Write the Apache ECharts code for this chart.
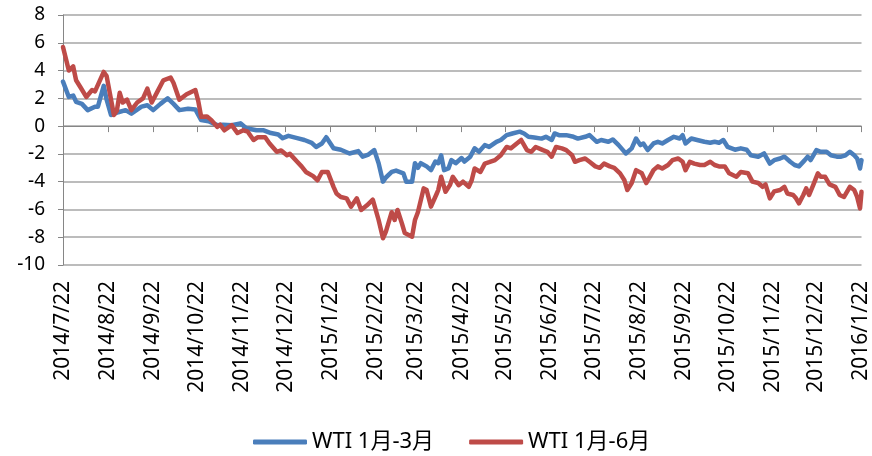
<!DOCTYPE html>
<html>
<head>
<meta charset="utf-8">
<script src="https://cdn.jsdelivr.net/npm/echarts@6/dist/echarts.min.js"></script>
<style>
  html, body { margin: 0; padding: 0; background: #fff; }
  #chart { width: 872px; height: 456px; }
</style>
</head>
<body>
<div id="chart"></div>
<script>
const startDay = '2014/7/22'
const endDay = '2016/1/22'
const yTicks = [-10, -8, -6, -4, -2, 0, 2, 4, 6, 8]

const name3m = 'WTI 1月-3月'
const dates3m = [
  '2014/7/22', '2014/7/26', '2014/7/29', '2014/7/31', '2014/8/4', '2014/8/8', '2014/8/13', '2014/8/15',
  '2014/8/19', '2014/8/21', '2014/8/24', '2014/8/29', '2014/9/3', '2014/9/7', '2014/9/14', '2014/9/18',
  '2014/9/22', '2014/9/27', '2014/10/2', '2014/10/6', '2014/10/10', '2014/10/16', '2014/10/21', '2014/10/25',
  '2014/10/30', '2014/11/5', '2014/11/9', '2014/11/15', '2014/11/21', '2014/11/25', '2014/12/2', '2014/12/7',
  '2014/12/12', '2014/12/17', '2014/12/20', '2014/12/24', '2014/12/30', '2015/1/4', '2015/1/9', '2015/1/12',
  '2015/1/16', '2015/1/19', '2015/1/24', '2015/1/29', '2015/2/4', '2015/2/10', '2015/2/13', '2015/2/17',
  '2015/2/21', '2015/2/24', '2015/2/27', '2015/3/1', '2015/3/5', '2015/3/8', '2015/3/13', '2015/3/15',
  '2015/3/19', '2015/3/21', '2015/3/23', '2015/3/25', '2015/3/29', '2015/4/1', '2015/4/4', '2015/4/6',
  '2015/4/8', '2015/4/10', '2015/4/13', '2015/4/15', '2015/4/18', '2015/4/22', '2015/4/24', '2015/4/28',
  '2015/5/1', '2015/5/4', '2015/5/8', '2015/5/11', '2015/5/16', '2015/5/19', '2015/5/23', '2015/5/27',
  '2015/6/1', '2015/6/4', '2015/6/7', '2015/6/11', '2015/6/16', '2015/6/19', '2015/6/23', '2015/6/25',
  '2015/6/28', '2015/7/3', '2015/7/8', '2015/7/11', '2015/7/16', '2015/7/19', '2015/7/24', '2015/7/27',
  '2015/8/1', '2015/8/4', '2015/8/8', '2015/8/11', '2015/8/13', '2015/8/17', '2015/8/20', '2015/8/23',
  '2015/8/25', '2015/8/28', '2015/9/1', '2015/9/4', '2015/9/7', '2015/9/11', '2015/9/15', '2015/9/19',
  '2015/9/21', '2015/9/23', '2015/9/27', '2015/10/1', '2015/10/6', '2015/10/10', '2015/10/13', '2015/10/16',
  '2015/10/19', '2015/10/22', '2015/10/27', '2015/10/31', '2015/11/4', '2015/11/7', '2015/11/12', '2015/11/16',
  '2015/11/20', '2015/11/23', '2015/11/27', '2015/11/30', '2015/12/4', '2015/12/7', '2015/12/10', '2015/12/14',
  '2015/12/16', '2015/12/18', '2015/12/22', '2015/12/25', '2015/12/29', '2016/1/1', '2016/1/5', '2016/1/8',
  '2016/1/11', '2016/1/14', '2016/1/17', '2016/1/19', '2016/1/21', '2016/1/22'
]
const values3m = [
  3.2, 2.1, 2.2, 1.75, 1.6, 1.15, 1.4, 1.4,
  2.9, 1.9, 0.8, 1.0, 1.15, 0.9, 1.4, 1.5,
  1.15, 1.6, 2.0, 1.6, 1.15, 1.25, 1.2, 0.43,
  0.35, 0.07, 0.1, 0.07, 0.2, -0.15, -0.3, -0.3,
  -0.5, -0.6, -0.87, -0.7, -0.87, -1.0, -1.2, -1.5,
  -1.25, -0.8, -1.6, -1.7, -1.97, -1.8, -2.2, -2.05,
  -1.73, -2.67, -4.0, -3.7, -3.3, -3.2, -3.4, -4.0,
  -4.0, -2.67, -3.0, -2.67, -2.9, -3.17, -2.55, -2.67,
  -2.1, -3.17, -3.05, -2.45, -2.67, -2.3, -2.55, -2.2,
  -1.6, -1.85, -1.37, -1.5, -1.13, -1.0, -0.65, -0.53,
  -0.4, -0.53, -0.77, -0.82, -0.9, -0.77, -1.0, -0.53,
  -0.65, -0.65, -0.77, -0.9, -0.77, -0.65, -1.13, -1.0,
  -1.13, -0.96, -1.37, -1.73, -1.97, -1.6, -0.89, -1.37,
  -1.25, -1.73, -1.25, -1.13, -1.25, -1.0, -0.77, -0.89,
  -0.65, -1.25, -0.89, -1.0, -1.13, -1.2, -1.13, -1.2,
  -1.0, -1.5, -1.7, -1.6, -1.7, -2.1, -2.2, -1.97,
  -2.7, -2.45, -2.33, -2.2, -2.57, -2.8, -2.9, -2.45,
  -2.2, -2.45, -1.73, -1.85, -1.85, -2.1, -2.2, -2.2,
  -2.1, -1.85, -2.1, -2.33, -3.05, -2.45
]

const name6m = 'WTI 1月-6月'
const dates6m = [
  '2014/7/22', '2014/7/26', '2014/7/29', '2014/7/31', '2014/8/3', '2014/8/7', '2014/8/11', '2014/8/13',
  '2014/8/19', '2014/8/21', '2014/8/26', '2014/8/28', '2014/8/30', '2014/9/1', '2014/9/4', '2014/9/7',
  '2014/9/11', '2014/9/15', '2014/9/18', '2014/9/21', '2014/9/25', '2014/9/29', '2014/10/4', '2014/10/6',
  '2014/10/10', '2014/10/15', '2014/10/21', '2014/10/23', '2014/10/25', '2014/10/29', '2014/11/1', '2014/11/5',
  '2014/11/7', '2014/11/10', '2014/11/15', '2014/11/19', '2014/11/23', '2014/11/26', '2014/11/30', '2014/12/3',
  '2014/12/8', '2014/12/11', '2014/12/16', '2014/12/19', '2014/12/23', '2014/12/25', '2014/12/30', '2015/1/2',
  '2015/1/5', '2015/1/10', '2015/1/13', '2015/1/16', '2015/1/20', '2015/1/24', '2015/1/26', '2015/1/29',
  '2015/2/2', '2015/2/5', '2015/2/9', '2015/2/12', '2015/2/16', '2015/2/20', '2015/2/24', '2015/2/27',
  '2015/3/1', '2015/3/5', '2015/3/7', '2015/3/9', '2015/3/12', '2015/3/14', '2015/3/19', '2015/3/21',
  '2015/3/23', '2015/3/27', '2015/3/29', '2015/4/1', '2015/4/5', '2015/4/6', '2015/4/8', '2015/4/11',
  '2015/4/14', '2015/4/16', '2015/4/20', '2015/4/23', '2015/4/27', '2015/4/29', '2015/5/1', '2015/5/5',
  '2015/5/8', '2015/5/11', '2015/5/15', '2015/5/19', '2015/5/23', '2015/5/26', '2015/5/30', '2015/6/2',
  '2015/6/6', '2015/6/9', '2015/6/12', '2015/6/17', '2015/6/20', '2015/6/23', '2015/6/26', '2015/6/30',
  '2015/7/3', '2015/7/7', '2015/7/9', '2015/7/12', '2015/7/16', '2015/7/19', '2015/7/23', '2015/7/26',
  '2015/7/29', '2015/8/2', '2015/8/5', '2015/8/9', '2015/8/12', '2015/8/14', '2015/8/17', '2015/8/20',
  '2015/8/24', '2015/8/27', '2015/8/29', '2015/9/1', '2015/9/4', '2015/9/7', '2015/9/11', '2015/9/14',
  '2015/9/18', '2015/9/21', '2015/9/23', '2015/9/26', '2015/9/29', '2015/10/3', '2015/10/6', '2015/10/10',
  '2015/10/13', '2015/10/16', '2015/10/20', '2015/10/23', '2015/10/28', '2015/10/31', '2015/11/5', '2015/11/8',
  '2015/11/12', '2015/11/15', '2015/11/17', '2015/11/20', '2015/11/23', '2015/11/27', '2015/11/30', '2015/12/2',
  '2015/12/6', '2015/12/8', '2015/12/10', '2015/12/13', '2015/12/15', '2015/12/17', '2015/12/20', '2015/12/23',
  '2015/12/25', '2015/12/28', '2015/12/31', '2016/1/4', '2016/1/7', '2016/1/10', '2016/1/14', '2016/1/17',
  '2016/1/19', '2016/1/21', '2016/1/22'
]
const values6m = [
  5.7, 4.0, 4.3, 3.3, 2.8, 2.1, 2.6, 2.5,
  3.9, 3.6, 0.8, 1.1, 2.4, 1.7, 1.9, 1.15,
  1.7, 2.0, 2.7, 1.7, 2.5, 3.3, 3.5, 3.1,
  1.9, 2.3, 2.6, 1.8, 0.67, 0.7, 0.43, -0.05,
  0.1, -0.3, 0.07, -0.5, -0.3, -0.4, -1.0, -0.8,
  -0.8, -1.25, -1.85, -1.75, -2.1, -2.0, -2.57, -2.9,
  -3.3, -3.6, -3.9, -3.3, -3.3, -4.37, -4.85, -5.1,
  -5.2, -5.8, -5.2, -6.04, -5.7, -5.3, -6.76, -8.08,
  -7.6, -6.2, -6.76, -6.04, -7.0, -7.7, -7.96, -6.76,
  -6.2, -4.48, -4.6, -5.8, -4.85, -4.6, -3.65, -4.73,
  -4.25, -3.65, -4.25, -4.0, -4.37, -3.9, -3.05, -3.3,
  -2.7, -2.6, -2.45, -2.1, -1.5, -1.6, -1.25, -1.0,
  -1.73, -1.85, -1.5, -1.73, -1.85, -2.2, -1.5, -1.6,
  -1.73, -2.1, -2.57, -2.45, -2.33, -2.57, -2.9, -3.0,
  -2.7, -2.9, -3.0, -3.4, -3.9, -4.6, -4.1, -3.17,
  -3.4, -4.1, -3.75, -3.17, -2.9, -3.05, -2.8, -2.45,
  -2.33, -2.57, -3.17, -2.57, -2.7, -2.8, -2.8, -2.57,
  -2.8, -2.9, -2.9, -3.4, -3.65, -3.3, -3.4, -4.0,
  -4.1, -4.37, -4.2, -5.2, -4.7, -4.6, -4.37, -4.85,
  -4.96, -5.2, -5.56, -4.96, -4.48, -4.96, -4.2, -3.4,
  -3.65, -3.65, -4.2, -4.37, -4.96, -5.1, -4.37, -4.6,
  -5.1, -5.92, -4.73
]

// every calendar day on the axis, so months keep their real width
function dayList(from, to) {
  const out = []
  const p = from.split('/').map(Number)
  const q = to.split('/').map(Number)
  let t = Date.UTC(p[0], p[1] - 1, p[2])
  const end = Date.UTC(q[0], q[1] - 1, q[2])
  while (t <= end) {
    const d = new Date(t)
    out.push(d.getUTCFullYear() + '/' + (d.getUTCMonth() + 1) + '/' + d.getUTCDate())
    t += 86400000
  }
  return out
}

function pairs(dates, values) {
  return dates.map((d, i) => [d, values[i]])
}

const days = dayList(startDay, endDay)
const onDay22 = (index, value) => value.split('/')[2] === '22'

const chart = echarts.init(document.getElementById('chart'), null, { renderer: 'canvas' })
chart.setOption({
  animation: false,
  backgroundColor: '#fff',
  textStyle: { fontFamily: 'Noto Sans' },
  grid: { left: 63, right: 10, top: 15, bottom: 191, containLabel: false },
  legend: {
    left: 248,
    top: 426,
    itemWidth: 54,
    itemHeight: 5,
    itemGap: 35,
    icon: 'roundRect',
    textStyle: { fontSize: 22, color: '#000', fontFamily: 'Noto Sans, Noto Sans CJK SC' },
    data: [name3m, name6m]
  },
  xAxis: {
    type: 'category',
    data: days,
    boundaryGap: false,
    axisLine: { lineStyle: { color: '#868686', width: 1 } },
    axisTick: { show: true, interval: onDay22, length: 6, lineStyle: { color: '#868686' } },
    axisLabel: {
      interval: onDay22,
      rotate: 90,
      margin: 16,
      fontSize: 21,
      color: '#000'
    },
    splitLine: { show: false }
  },
  yAxis: {
    type: 'value',
    min: yTicks[0],
    max: yTicks[yTicks.length - 1],
    interval: 2,
    axisLine: { show: true, lineStyle: { color: '#868686', width: 1 } },
    axisTick: { show: true, length: 5, lineStyle: { color: '#868686' } },
    axisLabel: { margin: 18, fontSize: 19, color: '#000' },
    splitLine: { lineStyle: { color: '#A6A6A6', width: 1.5 } }
  },
  series: [
    {
      name: name3m,
      type: 'line',
      showSymbol: false,
      symbol: 'none',
      data: pairs(dates3m, values3m),
      lineStyle: { color: '#4A7EBB', width: 4.5, join: 'round', cap: 'round' },
      itemStyle: { color: '#4A7EBB' }
    },
    {
      name: name6m,
      type: 'line',
      showSymbol: false,
      symbol: 'none',
      data: pairs(dates6m, values6m),
      lineStyle: { color: '#BE4B48', width: 4.5, join: 'round', cap: 'round' },
      itemStyle: { color: '#BE4B48' }
    }
  ]
})
</script>
</body>
</html>
